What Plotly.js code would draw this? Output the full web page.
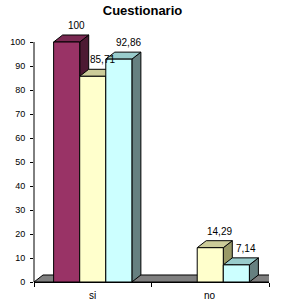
<!DOCTYPE html>
<html><head><meta charset="utf-8">
<script src="https://cdn.plot.ly/plotly-3.0.1.min.js"></script>
<style>html,body{margin:0;padding:0;background:#fff;}#chart{width:285px;height:304px;}</style>
</head><body><div id="chart"></div>
<script>
// ---- data ----
const categories = ['si', 'no'];
const seriesA = [100, 0];        // maroon
const seriesB = [85.71, 14.29];  // yellow
const seriesC = [92.86, 7.14];   // cyan
const yTicks = [0,10,20,30,40,50,60,70,80,90,100];
const chartTitle = 'Cuestionario';

// ---- styles ----
const seriesStyle = [
  {front:'#993366', top:'#7a2952', side:'#4d1a33'},
  {front:'#ffffcc', top:'#cccc99', side:'#999966'},
  {front:'#ccffff', top:'#99cccc', side:'#668080'}
];
const seriesData = [seriesA, seriesB, seriesC];
const W = 0.222;       // bar width (axis units)
const DX = 0.0766;     // depth offset x (axis units)
const DY = 2.92;       // depth offset y (axis units)
const FONT = 'Liberation Sans, Arial, sans-serif';

function poly(xs, ys, fill){
  return {type:'scatter', mode:'lines', x:xs.concat([xs[0]]), y:ys.concat([ys[0]]),
    fill:'toself', fillcolor:fill, line:{color:'#000', width:1},
    hoverinfo:'skip', showlegend:false, cliponaxis:false};
}

const traces = [];
// floor
const xl = -0.5, xr = categories.length - 0.5;
traces.push(poly([xl, xr, xr+DX, xl+DX], [0, 0, DY, DY], '#808080'));

const annotations = [];
categories.forEach((cat, ci) => {
  seriesData.forEach((ser, si) => {
    const v = ser[ci];
    if (!(v > 0)) return;
    const x0 = ci + (si - 1.5) * W, x1 = x0 + W;
    const st = seriesStyle[si];
    traces.push(poly([x1, x1+DX, x1+DX, x1], [0, DY, v+DY, v], st.side));
    traces.push(poly([x0, x1, x1+DX, x0+DX], [v, v, v+DY, v+DY], st.top));
    traces.push(poly([x0, x1, x1, x0], [0, 0, v, v], st.front));
    annotations.push({x:(x0+x1)/2 + DX/2, y:v+DY, xref:'x', yref:'y',
      text:String(v).replace('.', ','), showarrow:false, yanchor:'bottom',
      xshift:5, yshift:2, font:{family:FONT, size:10, color:'#000'}});
  });
  annotations.push({x:ci, y:0, xref:'x', yref:'y', text:cat, showarrow:false,
    yanchor:'top', yshift:-6, font:{family:FONT, size:10, color:'#000'}});
});

const layout = {
  width:285, height:304,
  margin:{l:34, r:16, t:30, b:22},
  paper_bgcolor:'#fff', plot_bgcolor:'#fff',
  title:{text:'<b>' + chartTitle + '</b>', font:{family:FONT, size:13, color:'#000'},
    x:0.5, xanchor:'center', xref:'container', y:1 - 10/304, yref:'container', yanchor:'middle'},
  xaxis:{range:[xl, xr], tickvals:[-0.5, 0.5, 1.5], ticktext:['', '', ''],
    ticks:'outside', ticklen:4, tickcolor:'#000', showline:true, linecolor:'#000',
    linewidth:1, showgrid:false, zeroline:false, fixedrange:true},
  yaxis:{range:[0, 105], tickvals:yTicks, ticks:'outside', ticklen:3, tickcolor:'#000',
    showline:false, showgrid:false, zeroline:false, ticklabelstandoff:3,
    tickfont:{family:FONT, size:9, color:'#000'}, fixedrange:true},
  shapes:[{type:'line', xref:'paper', yref:'y', x0:0, x1:0, y0:0, y1:yTicks[yTicks.length-1],
    line:{color:'#000', width:1}}],
  annotations:annotations,
  showlegend:false
};
Plotly.newPlot('chart', traces, layout, {displayModeBar:false, staticPlot:true});
</script></body></html>
